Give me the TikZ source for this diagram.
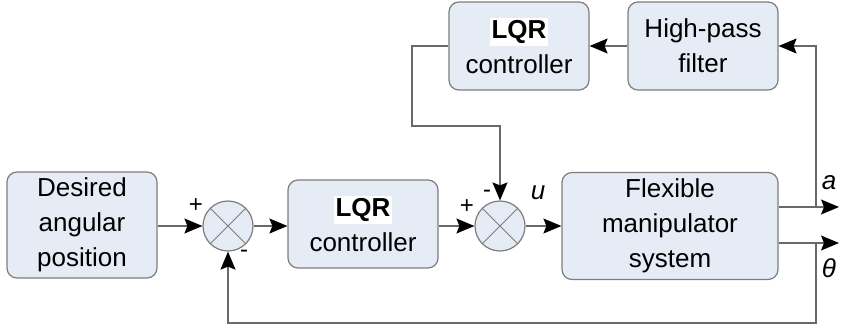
\documentclass[tikz,border=0pt]{standalone}
\usepackage{fontspec}
\setmainfont{Liberation Sans}
\usepackage{xcolor}
\usetikzlibrary{positioning,calc,arrows.meta}
\definecolor{boxfill}{RGB}{230,236,246}
\definecolor{boxline}{RGB}{125,125,125}
\definecolor{wire}{RGB}{105,105,105}
\tikzset{
  figfont/.style={font=\fontsize{13}{17.5}\selectfont},
  figbox/.style={draw=boxline, fill=boxfill, rounded corners=5pt, align=center, inner sep=0pt, line width=0.6pt},
  figsum/.style={draw=boxline, fill=boxfill, circle, minimum size=25pt, inner sep=0pt, line width=0.6pt,
    path picture={\draw[boxline, line width=0.5pt]
      (path picture bounding box.south west) -- (path picture bounding box.north east)
      (path picture bounding box.north west) -- (path picture bounding box.south east);}},
  figarrow/.style={-{Stealth[length=9pt, width=7.5pt, inset=1.5pt, color=black]}, draw=wire, line width=0.6pt},
  figsign/.style={font=\fontsize{12}{12}\selectfont, inner sep=0pt},
  figlabel/.style={font=\fontsize{13}{14}\selectfont\itshape, inner sep=0pt},
}
\newcommand{\lqrtag}{{\fboxsep=1pt\colorbox{white}{\textbf{LQR}}}}

\begin{document}
\begin{tikzpicture}[x=0.5pt,y=-0.5pt,figfont]
  \useasboundingbox (0,0) rectangle (841,328);

  % Main loop blocks
  \node[figbox, minimum width=75pt, minimum height=53pt] (desired) at (82,225) {Desired\\angular\\position};
  \node[figsum] (sumA) at (228,226) {};
  \node[figbox, minimum width=75pt, minimum height=44pt] (lqrA) at (363,224) {\lqrtag\\controller};
  \node[figsum] (sumB) at (500,226) {};
  \node[figbox, minimum width=108pt, minimum height=53.5pt] (plant) at (670,226) {Flexible\\manipulator\\system};

  % Vibration feedback blocks
  \node[figbox, minimum width=70pt, minimum height=44pt] (lqrB) at (519,46) {\lqrtag\\controller};
  \node[figbox, minimum width=75pt, minimum height=44pt] (hpf) at (703,46) {High-pass\\filter};

  % Corner points
  \coordinate (aout) at (839,207);
  \coordinate (thout) at (839,243);
  \coordinate (abr) at (816,207);
  \coordinate (thbr) at (816,243);
  \coordinate (fb) at (816,323);
  \coordinate (kink) at (412,126);

  % Forward path
  \draw[figarrow] (desired.east |- sumA) -- (sumA.west);
  \draw[figarrow] (sumA.east) -- (lqrA.west |- sumA);
  \draw[figarrow] (lqrA.east |- sumB) -- (sumB.west);
  \draw[figarrow] (sumB.east) -- (plant.west |- sumB);
  \draw[figarrow] (plant.east |- aout) -- (aout);
  \draw[figarrow] (plant.east |- thout) -- (thout);

  % Feedback paths
  \draw[figarrow] (abr) |- (hpf.east);
  \draw[figarrow] (hpf.west) -- (lqrB.east);
  \draw[figarrow] (lqrB.west) -| (kink) -| (sumB.north);
  \draw[figarrow] (thbr) -- (fb) -| (sumA.south);

  % Signs and signal names
  \node[figsign] (pA) at (196,206) {+};
  \node[figsign] (mA) at (244,254) {-};
  \node[figsign] (pB) at (467,207) {+};
  \node[figsign] (mB) at (487,194) {-};
  \node[figlabel] (ulab) at (538,193) {u};
  \node[figlabel] (alab) at (829,183) {a};
  \node[figlabel] (thlab) at (829,268) {θ};
\end{tikzpicture}
\end{document}
